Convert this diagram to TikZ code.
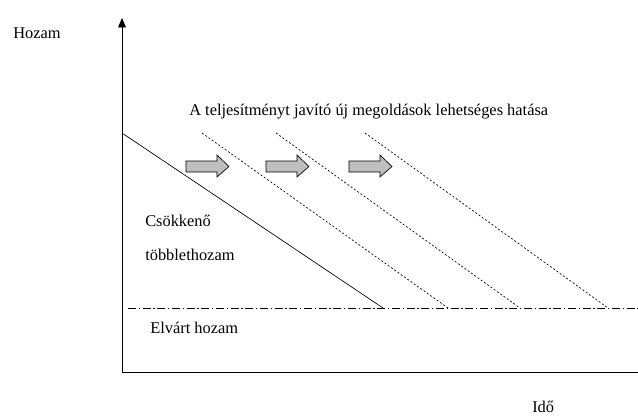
\documentclass[tikz,border=0pt]{standalone}
\usepackage{fontspec}
\setmainfont{Liberation Serif}
\usetikzlibrary{arrows}

\begin{document}
\begin{tikzpicture}[line cap=butt,line join=miter,>=triangle 45,x=0.75pt,y=-0.75pt,
  every node/.style={inner sep=0pt,anchor=base west,font=\fontsize{12.3}{14}\selectfont}]
\useasboundingbox (0,0) rectangle (638,415);
% axes
\draw[->,line width=0.6pt] (122,372)-- (122,18);
\draw[line width=0.6pt] (122,372)-- (638,372);
% elvart hozam
\draw[dash pattern=on 6pt off 2pt on 1pt off 2pt,line width=0.4pt] (128,308)-- (638,308);
% csokkeno tobblethozam
\draw[line width=0.5pt] (122,133)-- (383,308);
\draw[dash pattern=on 1.5pt off 1.5pt,line width=0.5pt] (202,133)-- (448,308);
\draw[dash pattern=on 1.5pt off 1.5pt,line width=0.5pt] (276,133)-- (520,308);
\draw[dash pattern=on 1.5pt off 1.5pt,line width=0.5pt] (365,133)-- (608,308);
% nyilak
\foreach \ax in {186,266,349}
  \draw[fill=black!25,line width=0.5pt] (\ax,161)-- (\ax+31,161)-- (\ax+31,155)-- (\ax+43,166.5)
    -- (\ax+31,177)-- (\ax+31,172)-- (\ax,172)-- cycle;
% feliratok
\node (hozam) at (13,38) {Hozam};
\node (hatas) at (189,115) {A teljesítményt javító új megoldások lehetséges hatása};
\node (csokkeno) at (145,226) {Csökkenő};
\node (tobblet) at (145,260) {többlethozam};
\node (elvart) at (150,333) {Elvárt hozam};
\node (ido) at (532,412) {Idő};
\end{tikzpicture}
\end{document}
